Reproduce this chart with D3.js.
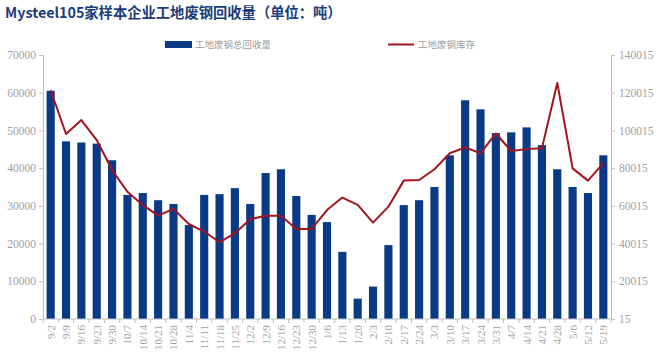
<!DOCTYPE html>
<html>
<head>
<meta charset="utf-8">
<script src="https://cdn.jsdelivr.net/npm/d3@7"></script>
<style>
  body { margin: 0; background: #fff; }
  svg { display: block; }
</style>
</head>
<body>
<svg class="chart"></svg>
<script>
// chart data
const dates = ['9/2', '9/9', '9/16', '9/23', '9/30', '10/7', '10/14', '10/21', '10/28', '11/4',
  '11/11', '11/18', '11/25', '12/2', '12/9', '12/16', '12/23', '12/30', '1/6', '1/13',
  '1/20', '2/3', '2/10', '2/17', '2/24', '3/3', '3/10', '3/17', '3/24', '3/31',
  '4/7', '4/14', '4/21', '4/28', '5/6', '5/12', '5/19'];
const recovery = [60500, 47100, 46800, 46500, 42100, 32900, 33400, 31500, 30500, 24900,
  32900, 33100, 34700, 30500, 38700, 39700, 32600, 27600, 25700, 17800,
  5400, 8600, 19600, 30200, 31500, 35000, 43400, 58000, 55600, 49300,
  49500, 50800, 46100, 39700, 35000, 33400, 43400];
const stock = [121300, 98100, 105500, 94900, 79000, 67500, 60500, 54800, 58400, 50400,
  46400, 40700, 45500, 52900, 54800, 54800, 47800, 47800, 57800, 64400,
  60500, 51100, 59600, 73400, 73700, 79400, 87900, 91000, 87900, 98400,
  89100, 90100, 90500, 125200, 79900, 73400, 82700];
const leftTicks = [0, 10000, 20000, 30000, 40000, 50000, 60000, 70000];
const rightTicks = [15, 20015, 40015, 60015, 80015, 100015, 120015, 140015];
const seriesNames = ['工地废钢总回收量', '工地废钢库存'];
const title = 'Mysteel105家样本企业工地废钢回收量（单位：吨）';

const svgWidth = 659;
const svgHeight = 361;
const margin = { top: 55, right: 48, bottom: 42, left: 43 };
const chartWidth = svgWidth - margin.left - margin.right;
const chartHeight = svgHeight - margin.top - margin.bottom;

const barColor = '#0a3a86';
const lineColor = '#a3141f';
const axisColor = '#bfbfbf';
const labelColor = '#a0a0a0';
const tickFont = '"Liberation Serif", serif';

const svg = d3.select('.chart')
  .attr('width', svgWidth)
  .attr('height', svgHeight);

// title
svg.append('text')
  .attr('x', 5)
  .attr('y', 18)
  .attr('fill', '#1b3d7a')
  .attr('font-family', '"Noto Sans CJK SC", sans-serif')
  .attr('font-weight', 'bold')
  .attr('font-size', '14.3px')
  .text(title);

const chart = svg.append('g')
  .attr('transform', 'translate(' + margin.left + ',' + margin.top + ')');

const xScale = d3.scaleBand()
  .domain(dates)
  .range([0, chartWidth])
  .paddingInner(0.47)
  .paddingOuter(0.235);

const yLeft = d3.scaleLinear()
  .domain([0, 70000])
  .range([chartHeight, 0]);

const yRight = d3.scaleLinear()
  .domain([15, 140015])
  .range([chartHeight, 0]);

// bars
chart.selectAll('.bar')
  .data(dates)
  .enter()
  .append('rect')
  .attr('class', 'bar')
  .attr('x', d => xScale(d))
  .attr('y', (d, i) => yLeft(recovery[i]))
  .attr('width', xScale.bandwidth())
  .attr('height', (d, i) => chartHeight - yLeft(recovery[i]))
  .attr('fill', barColor);

// stock line
const line = d3.line()
  .x((d, i) => xScale(dates[i]) + xScale.bandwidth() / 2)
  .y(d => yRight(d));

chart.append('path')
  .datum(stock)
  .attr('fill', 'none')
  .attr('stroke', lineColor)
  .attr('stroke-width', 2)
  .attr('stroke-linejoin', 'round')
  .attr('d', line);

// left axis
const leftAxis = chart.append('g')
  .call(d3.axisLeft(yLeft).tickValues(leftTicks).tickSize(4).tickPadding(3).tickFormat(d3.format('d')));

// right axis
const rightAxis = chart.append('g')
  .attr('transform', 'translate(' + chartWidth + ',0)')
  .call(d3.axisRight(yRight).tickValues(rightTicks).tickSize(4).tickPadding(4).tickFormat(d3.format('d')));

// x axis, ticks sit between categories
const xAxis = chart.append('g')
  .attr('transform', 'translate(0,' + chartHeight + ')');

xAxis.append('line')
  .attr('x1', 0)
  .attr('x2', chartWidth)
  .attr('stroke', axisColor);

const step = xScale.step();
xAxis.selectAll('.xtick')
  .data(d3.range(dates.length + 1))
  .enter()
  .append('line')
  .attr('x1', d => d * step)
  .attr('x2', d => d * step)
  .attr('y1', 0)
  .attr('y2', 4)
  .attr('stroke', axisColor);

xAxis.selectAll('.xlabel')
  .data(dates)
  .enter()
  .append('text')
  .attr('transform', d => 'translate(' + (xScale(d) + xScale.bandwidth() / 2 + 4) + ',6) rotate(-90)')
  .attr('text-anchor', 'end')
  .attr('fill', labelColor)
  .attr('font-family', tickFont)
  .attr('font-size', '11px')
  .text(d => d);

[leftAxis, rightAxis].forEach(g => {
  g.select('.domain').attr('stroke', axisColor);
  g.selectAll('.tick line').attr('stroke', axisColor);
  g.selectAll('.tick text')
    .attr('fill', labelColor)
    .attr('font-family', tickFont)
    .attr('font-size', '11.5px');
});

// legend
const legend = svg.append('g')
  .attr('font-family', '"Noto Sans CJK SC", sans-serif')
  .attr('font-size', '9.5px')
  .attr('fill', labelColor);

legend.append('rect')
  .attr('x', 165)
  .attr('y', 41)
  .attr('width', 27)
  .attr('height', 7)
  .attr('fill', barColor);

legend.append('text')
  .attr('x', 195)
  .attr('y', 48)
  .text(seriesNames[0]);

legend.append('line')
  .attr('x1', 388)
  .attr('x2', 414)
  .attr('y1', 44.5)
  .attr('y2', 44.5)
  .attr('stroke', lineColor)
  .attr('stroke-width', 2);

legend.append('text')
  .attr('x', 418)
  .attr('y', 48)
  .text(seriesNames[1]);
</script>
</body>
</html>
